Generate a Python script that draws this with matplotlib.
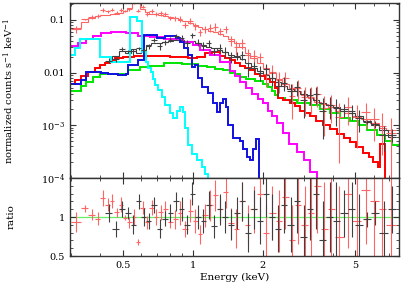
import numpy as np
import matplotlib
matplotlib.use('Agg')
import matplotlib.pyplot as plt
from matplotlib.ticker import FixedLocator, NullFormatter, MultipleLocator

plt.rcParams['font.family'] = 'DejaVu Serif'
plt.rcParams['mathtext.fontset'] = 'dejavuserif'

######################## model components (bin edges, values) ########################
red_edges = [0.296, 0.311, 0.330, 0.353, 0.379, 0.398, 0.419, 0.440, 0.462, 0.50, 0.56, 0.66,
             0.80, 0.95, 1.04, 1.13, 1.21, 1.31, 1.38, 1.44, 1.52, 1.59, 1.67, 1.76, 1.85, 1.94,
             2.04, 2.14, 2.25, 2.32, 2.45, 2.61, 2.75, 2.88, 3.03, 3.18, 3.4, 3.62, 3.88, 4.16,
             4.45, 4.73, 5.05, 5.39, 5.7, 5.95, 6.25, 6.37, 6.69, 7.0]
red_vals = [0.006, 0.0072, 0.0086, 0.0102, 0.0122, 0.0139, 0.015, 0.0173, 0.019, 0.0198, 0.0206,
            0.0206, 0.0195, 0.019, 0.02, 0.0235, 0.0247, 0.021, 0.019, 0.017, 0.015, 0.0135, 0.012,
            0.011, 0.0095, 0.0085, 0.0075, 0.0065, 0.0052, 0.0033, 0.003, 0.0026, 0.0023, 0.0019,
            0.0017, 0.0015, 0.0012, 0.001, 0.00085, 0.00068, 0.00058, 0.00048, 0.00038, 0.0003,
            0.00025, 0.0002, 0.00016, 0.00045, 1e-6]

green_edges = [0.296, 0.330, 0.347, 0.372, 0.398, 0.525, 0.592, 0.653, 0.75, 0.9, 1.05, 1.15,
               1.25, 1.35, 1.45, 1.52, 1.6, 1.7, 1.85, 2.0, 2.1, 2.19, 2.25, 2.32, 2.5, 2.8, 3.2,
               3.52, 3.88, 4.3, 4.73, 5.2, 5.6, 6.18, 6.7, 7.18, 7.7]
green_vals = [0.0045, 0.0055, 0.0066, 0.0082, 0.0092, 0.0114, 0.0125, 0.0135, 0.015, 0.0145,
              0.0135, 0.0127, 0.0118, 0.011, 0.0098, 0.0092, 0.0083, 0.0075, 0.0068, 0.006, 0.0053,
              0.0045, 0.0037, 0.0033, 0.003, 0.0027, 0.0024, 0.002, 0.0017, 0.0014, 0.0012, 0.001,
              0.0008, 0.00064, 0.0005, 0.00042]

magenta_edges = [0.296, 0.320, 0.347, 0.372, 0.402, 0.444, 0.515, 0.580, 0.653, 0.75, 0.906, 1.0,
                 1.07, 1.18, 1.31, 1.44, 1.52, 1.6, 1.7, 1.8, 1.9, 2.0, 2.1, 2.2, 2.3, 2.44, 2.6,
                 2.8, 3.0, 3.2, 3.42, 3.5]
magenta_vals = [0.032, 0.036, 0.043, 0.05, 0.056, 0.059, 0.056, 0.05, 0.047, 0.043, 0.038, 0.034,
                0.027, 0.0215, 0.0159, 0.0105, 0.0085, 0.0065, 0.005, 0.004, 0.0031, 0.0026,
                0.0019, 0.0015, 0.0011, 0.0007, 0.00045, 0.00031, 0.00022, 0.00013, 1e-6]

cyan_edges = [0.296, 0.311, 0.327, 0.40, 0.445, 0.535, 0.575, 0.605, 0.627, 0.64, 0.658, 0.676,
              0.69, 0.71, 0.738, 0.76, 0.798, 0.822, 0.855, 0.881, 0.908, 0.926, 0.954, 0.99,
              1.04, 1.093, 1.126, 1.16, 1.2]
cyan_vals = [0.0215, 0.029, 0.044, 0.02, 0.016, 0.115, 0.095, 0.025, 0.016, 0.012, 0.0102,
             0.0075, 0.0058, 0.0046, 0.0034, 0.0024, 0.0017, 0.0014, 0.0019, 0.0022, 0.0018,
             0.0009, 0.00042, 0.00029, 0.00022, 0.00016, 0.00012, 1e-6]

blue_edges = [0.296, 0.330, 0.347, 0.402, 0.431, 0.476, 0.515, 0.525, 0.580, 0.615, 0.70, 0.76,
              0.85, 0.88, 0.92, 0.95, 0.99, 1.02, 1.05, 1.10, 1.16, 1.22, 1.27, 1.31, 1.35, 1.39,
              1.41, 1.49, 1.59, 1.64, 1.71, 1.76, 1.81, 1.87, 1.92, 2.0]
blue_vals = [0.006, 0.0072, 0.0102, 0.0098, 0.0094, 0.009, 0.0094, 0.0139, 0.0173, 0.052, 0.046,
             0.05, 0.045, 0.038, 0.029, 0.0215, 0.0127, 0.014, 0.0078, 0.0053, 0.0041, 0.0026,
             0.0018, 0.0026, 0.0031, 0.0022, 0.001, 0.00057, 0.0005, 0.00036, 0.00025, 0.00022,
             0.00036, 0.00054, 1e-6]

######################## data: bins, total model, ratio ########################
rd_edges = [0.30, 0.33, 0.355, 0.38, 0.40, 0.42, 0.44, 0.46, 0.48, 0.50, 0.52, 0.545, 0.57, 0.595,
            0.62, 0.65, 0.68, 0.71, 0.745, 0.78, 0.82, 0.86, 0.90, 0.95, 1.0, 1.05, 1.1, 1.16, 1.22,
            1.28, 1.35, 1.42, 1.5, 1.58, 1.67, 1.77, 1.88, 2.0, 2.13, 2.27, 2.42, 2.58, 2.75, 2.93,
            3.12, 3.33, 3.55, 3.8, 4.1, 4.45, 4.85, 5.3, 5.8, 6.3, 6.8, 7.5]
rd_model = [0.07, 0.092, 0.11, 0.12, 0.125, 0.125, 0.13, 0.13, 0.135, 0.15, 0.17, 0.22, 0.22, 0.16,
            0.14, 0.13, 0.13, 0.125, 0.12, 0.115, 0.11, 0.1, 0.095, 0.088, 0.08, 0.074, 0.066, 0.062,
            0.058, 0.055, 0.05, 0.044, 0.036, 0.03, 0.024, 0.019, 0.015, 0.012, 0.0098, 0.0075,
            0.0062, 0.0052, 0.0044, 0.0038, 0.0033, 0.0028, 0.0025, 0.0022, 0.0019, 0.0017, 0.0015,
            0.0013, 0.0011, 0.0009, 0.0008]
rd_ratio = [0.94, 1.11, 1.03, 0.98, 1.24, 1.16, 1.2, 1.06, 1.16, 0.99, 0.93, 1.0, 0.68, 1.12, 0.93,
            1.12, 1.0, 1.06, 1.1, 0.94, 0.97, 1.05, 0.85, 1.08, 0.95, 0.78, 1.02, 1.15, 1.28, 1.1,
            1.32, 0.92, 0.85, 1.2, 0.9, 1.1, 1.3, 0.8, 1.05, 0.95, 1.25, 0.7, 1.15, 0.9, 1.05, 1.4,
            0.85, 1.1, 0.75, 1.3, 0.95, 1.35, 1.2, 1.1, 0.9]
rd_err = [0.13, 0.04, 0.07, 0.08, 0.1, 0.08, 0.09, 0.06, 0.1, 0.03, 0.07, 0.1, 0.04, 0.08, 0.08,
          0.1, 0.1, 0.1, 0.1, 0.08, 0.12, 0.15, 0.1, 0.15, 0.15, 0.12, 0.15, 0.2, 0.2, 0.15, 0.2,
          0.2, 0.25, 0.25, 0.25, 0.3, 0.3, 0.35, 0.35, 0.4, 0.4, 0.45, 0.5, 0.5, 0.55, 0.6, 0.6,
          0.6, 0.65, 0.7, 0.7, 0.7, 0.75, 0.8, 0.8]

bk_edges = [0.42, 0.45, 0.48, 0.51, 0.54, 0.57, 0.60, 0.63, 0.66, 0.70, 0.74, 0.78, 0.82, 0.87,
            0.92, 0.97, 1.02, 1.08, 1.14, 1.2, 1.27, 1.34, 1.42, 1.5, 1.59, 1.68, 1.78, 1.89, 2.0,
            2.12, 2.25, 2.4, 2.55, 2.72, 2.9, 3.1, 3.3, 3.5, 3.75, 4.0, 4.3, 4.65, 5.0, 5.4, 5.85,
            6.35, 6.9, 7.5]
bk_model = [0.016, 0.021, 0.026, 0.024, 0.028, 0.024, 0.027, 0.033, 0.036, 0.037, 0.038, 0.04,
            0.041, 0.041, 0.04, 0.039, 0.037, 0.034, 0.031, 0.029, 0.027, 0.025, 0.022, 0.02, 0.018,
            0.015, 0.012, 0.0105, 0.009, 0.0078, 0.0066, 0.0056, 0.0049, 0.0044, 0.004, 0.0034,
            0.003, 0.0027, 0.0024, 0.0022, 0.0019, 0.0017, 0.0015, 0.0012, 0.001, 0.0008, 0.0006]
bk_ratio = [1.05, 0.85, 1.1, 1.05, 0.9, 1.2, 1.0, 0.95, 1.15, 0.85, 0.98, 1.05, 1.2, 1.1, 0.9, 1.3,
            1.0, 0.95, 1.15, 0.88, 1.1, 1.0, 0.9, 1.05, 1.2, 0.8, 1.1, 0.95, 1.3, 1.0, 0.85, 1.15,
            0.9, 1.2, 0.75, 1.1, 1.3, 0.7, 1.0, 0.95, 1.05, 1.1, 0.9, 0.97, 1.05, 0.8, 1.1]
bk_err = [0.12, 0.1, 0.1, 0.08, 0.12, 0.1, 0.12, 0.1, 0.1, 0.12, 0.1, 0.12, 0.12, 0.15, 0.12, 0.15,
          0.15, 0.15, 0.18, 0.15, 0.2, 0.2, 0.2, 0.2, 0.25, 0.25, 0.25, 0.3, 0.3, 0.3, 0.3, 0.35,
          0.35, 0.4, 0.4, 0.4, 0.45, 0.5, 0.45, 0.5, 0.3, 0.35, 0.4, 0.1, 0.15, 0.4, 0.3]

RED_D = '#ff6464'
BLK_D = '#404040'


def data_arrays(edges, model, ratio, err):
    '''bin centres, half widths and the fluxes / ratios with errors'''
    e = np.array(edges)
    c = np.sqrt(e[:-1] * e[1:])
    xerr = [c - e[:-1], e[1:] - c]
    m = np.array(model)
    r = np.array(ratio)
    s = np.array(err)
    flux = m * r
    ferr = m * s
    lo = np.minimum(ferr, flux * 0.999)
    return c, xerr, flux, [lo, ferr], r, s


fig = plt.figure(figsize=(4.07, 2.88), dpi=100)
ax1 = fig.add_axes([0.172, 0.382, 0.808, 0.608])
ax2 = fig.add_axes([0.172, 0.111, 0.808, 0.271], sharex=ax1)

# data first, models on top
for edges, model, ratio, err, col in [(rd_edges, rd_model, rd_ratio, rd_err, RED_D),
                                      (bk_edges, bk_model, bk_ratio, bk_err, BLK_D)]:
    c, xerr, flux, ferr, r, s = data_arrays(edges, model, ratio, err)
    ax1.errorbar(c, flux, xerr=xerr, yerr=ferr, fmt='none', ecolor=col, elinewidth=0.8, capsize=0)
    ax1.stairs(model, edges, color=col, lw=0.8, baseline=None)
    ax2.errorbar(c, r, xerr=xerr, yerr=s, fmt='none', ecolor=col, elinewidth=0.8, capsize=0)

for edges, vals, col in [(green_edges, green_vals, '#00e600'),
                         (red_edges, red_vals, '#ff0000'),
                         (magenta_edges, magenta_vals, '#ff00ff'),
                         (cyan_edges, cyan_vals, '#00ffff'),
                         (blue_edges, blue_vals, '#1010e0')]:
    ax1.stairs(vals, edges, color=col, lw=1.4, baseline=None)

ax2.axhline(1.0, color='#66ee66', lw=0.9, zorder=0)

ax1.set_xscale('log')
ax1.set_yscale('log')
ax1.set_xlim(0.296, 7.7)
ax1.set_ylim(1e-4, 0.21)
ax2.set_ylim(0.5, 1.5)

ax1.yaxis.set_major_locator(FixedLocator([1e-4, 1e-3, 0.01, 0.1]))
ax1.set_yticklabels(['$10^{-4}$', '$10^{-3}$', '0.01', '0.1'])
ax1.yaxis.set_minor_locator(FixedLocator([k * 10.0 ** p for p in range(-4, 0) for k in range(2, 10)]))
ax1.yaxis.set_minor_formatter(NullFormatter())

ax2.xaxis.set_major_locator(FixedLocator([0.5, 1, 2, 5]))
ax2.xaxis.set_minor_locator(FixedLocator([0.3, 0.4, 0.6, 0.7, 0.8, 0.9, 3, 4, 6, 7]))
ax2.xaxis.set_minor_formatter(NullFormatter())
ax2.set_xticklabels(['0.5', '1', '2', '5'])
ax2.yaxis.set_major_locator(FixedLocator([0.5, 1.0]))
ax2.set_yticklabels(['0.5', '1'])
ax2.yaxis.set_minor_locator(MultipleLocator(0.1))
plt.setp(ax1.get_xticklabels(), visible=False)

for ax in (ax1, ax2):
    ax.tick_params(which='both', direction='in', top=True, right=True, labelsize=7, color='#333333')
    ax.tick_params(which='major', length=4, width=0.8)
    ax.tick_params(which='minor', length=2, width=0.6)
    for sp in ax.spines.values():
        sp.set_linewidth(1.0)
        sp.set_color('#333333')

ax1.set_ylabel('normalized counts s$^{-1}$ keV$^{-1}$', fontsize=7.2)
ax2.set_ylabel('ratio', fontsize=7.5)
ax1.yaxis.set_label_coords(-0.165, 0.5)
ax2.yaxis.set_label_coords(-0.165, 0.5)
ax2.set_xlabel('Energy (keV)', fontsize=7.5, labelpad=2)

plt.savefig('out.png', dpi=100)
